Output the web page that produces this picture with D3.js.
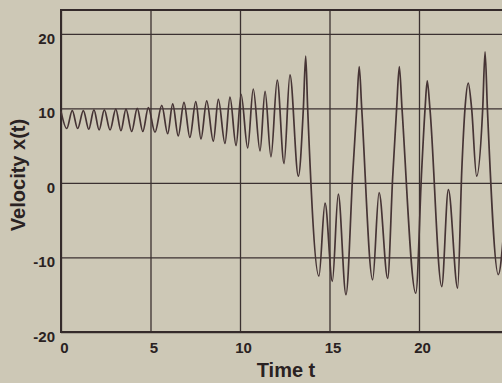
<!DOCTYPE html>
<html>
<head>
<meta charset="utf-8">
<script src="https://cdn.jsdelivr.net/npm/d3@7"></script>
<style>
  body { margin: 0; background: #cdc8b6; }
  svg { display: block; }
  .tick text { font-family: "Liberation Sans", Arial, sans-serif; font-weight: bold; font-size: 15px; fill: #2a2222; }
</style>
</head>
<body>
<div class="chart"></div>
<script>
var width = 502;
var height = 383;

// x(t) (time, velocity): extrema plus a few flank points
var times = [0, 0.32, 0.63, 0.93, 1.25, 1.55, 1.84, 2.13, 2.42, 2.74, 3.06, 3.35, 3.63, 3.95, 4.26, 4.57, 4.88, 5.25,
  5.63, 5.96, 6.24, 6.55, 6.87, 7.2, 7.53, 7.82, 8.14, 8.51, 8.79, 9.16, 9.44, 9.78, 10.06, 10.43, 10.74, 11.12,
  11.4, 11.73, 12.08, 12.46, 12.79, 13.26, 13.54, 13.67, 13.78, 14.41, 14.75, 15.16, 15.49, 15.92, 16.3, 16.52, 16.66, 16.8,
  17.41, 17.77, 18.25, 18.53, 18.75, 18.9, 19.05, 19.82, 20.15, 20.34, 20.46, 20.61, 21.27, 21.64, 22.16, 22.39,
  22.57, 22.75, 22.94, 23.22, 23.56, 23.69, 23.82, 24.43, 24.75];
var velocity = [9.6, 7.3, 9.7, 7.3, 9.7, 7.2, 9.8, 7.1, 9.8, 7.1, 9.9, 7.0, 9.9, 6.9, 10.0, 6.9, 10.1, 6.8,
  10.4, 6.6, 10.6, 6.3, 10.8, 6.1, 10.9, 5.9, 11.0, 5.6, 11.2, 5.3, 11.5, 5.0, 11.9, 4.7, 12.6, 4.3,
  12.3, 3.5, 13.8, 2.6, 14.5, 0.9, 10, 17.0, 10, -12.5, -2.7, -13.2, -1.5, -15.0, 1.3, 10, 15.6, 10,
  -13.0, -1.3, -12.8, 0.8, 10, 15.6, 10, -14.8, 1.7, 10, 13.7, 10, -13.9, -0.9, -14.1, 1.7,
  10, 13.4, 10, 0.9, 10, 17.6, 10, -12.3, -6.0];

var xTicks = [0, 5, 10, 15, 20];
var yTicks = [-20, -10, 0, 10, 20];

var points = times.map(function(t, i) { return {t: t, v: velocity[i]}; });

var x = d3.scaleLinear().domain([0, 25]).range([61, 508.5]);
var y = d3.scaleLinear().domain([-20, 23.2]).range([332, 10]);

var svg = d3.select(".chart")
    .append("svg")
    .attr("width", width)
    .attr("height", height);

svg.append("rect")
    .attr("width", width)
    .attr("height", height)
    .attr("fill", "#cdc8b6");

// vertical grid + x tick labels
var xAxis = svg.append("g")
    .attr("transform", "translate(0," + y(-20) + ")")
    .call(d3.axisBottom(x).tickValues(xTicks).tickSize(-(y(-20) - y(23.2))).tickPadding(7).tickFormat(function(d) { return String(d); }));
xAxis.select(".domain").remove();
xAxis.selectAll(".tick line").attr("stroke", "#3b3131").attr("stroke-width", 1.3);
xAxis.selectAll(".tick text").attr("dx", 3).attr("dy", "0.9em");

// horizontal grid + y tick labels
var yAxis = svg.append("g")
    .attr("transform", "translate(" + x(0) + ",0)")
    .call(d3.axisLeft(y).tickValues(yTicks).tickSize(-(x(25) - x(0))).tickPadding(6).tickFormat(function(d) { return String(d); }));
yAxis.select(".domain").remove();
yAxis.selectAll(".tick line").attr("stroke", "#3b3131").attr("stroke-width", 1.3);
yAxis.selectAll(".tick text").attr("dy", "0.62em");

// frame
svg.append("path")
    .attr("d", "M" + x(25) + "," + y(23.2) + "H" + x(0) + "V" + y(-20) + "H" + x(25))
    .attr("fill", "none")
    .attr("stroke", "#342a2a")
    .attr("stroke-width", 2);

// the curve
var line = d3.line()
    .x(function(d) { return x(d.t); })
    .y(function(d) { return y(d.v); })
    .curve(d3.curveMonotoneX);

svg.append("path")
    .datum(points)
    .attr("d", line)
    .attr("fill", "none")
    .attr("stroke", "#463435")
    .attr("stroke-width", 1.7);

// axis titles
svg.append("text")
    .attr("x", 286)
    .attr("y", 377)
    .attr("text-anchor", "middle")
    .style("font-family", "Liberation Sans, Arial, sans-serif")
    .style("font-size", "20px")
    .style("font-weight", "bold")
    .attr("fill", "#2a2222")
    .text("Time t");

svg.append("text")
    .attr("transform", "translate(25,175) rotate(-90)")
    .attr("text-anchor", "middle")
    .style("font-family", "Liberation Sans, Arial, sans-serif")
    .style("font-size", "20px")
    .style("font-weight", "bold")
    .attr("fill", "#2a2222")
    .text("Velocity x(t)");
</script>
</body>
</html>
